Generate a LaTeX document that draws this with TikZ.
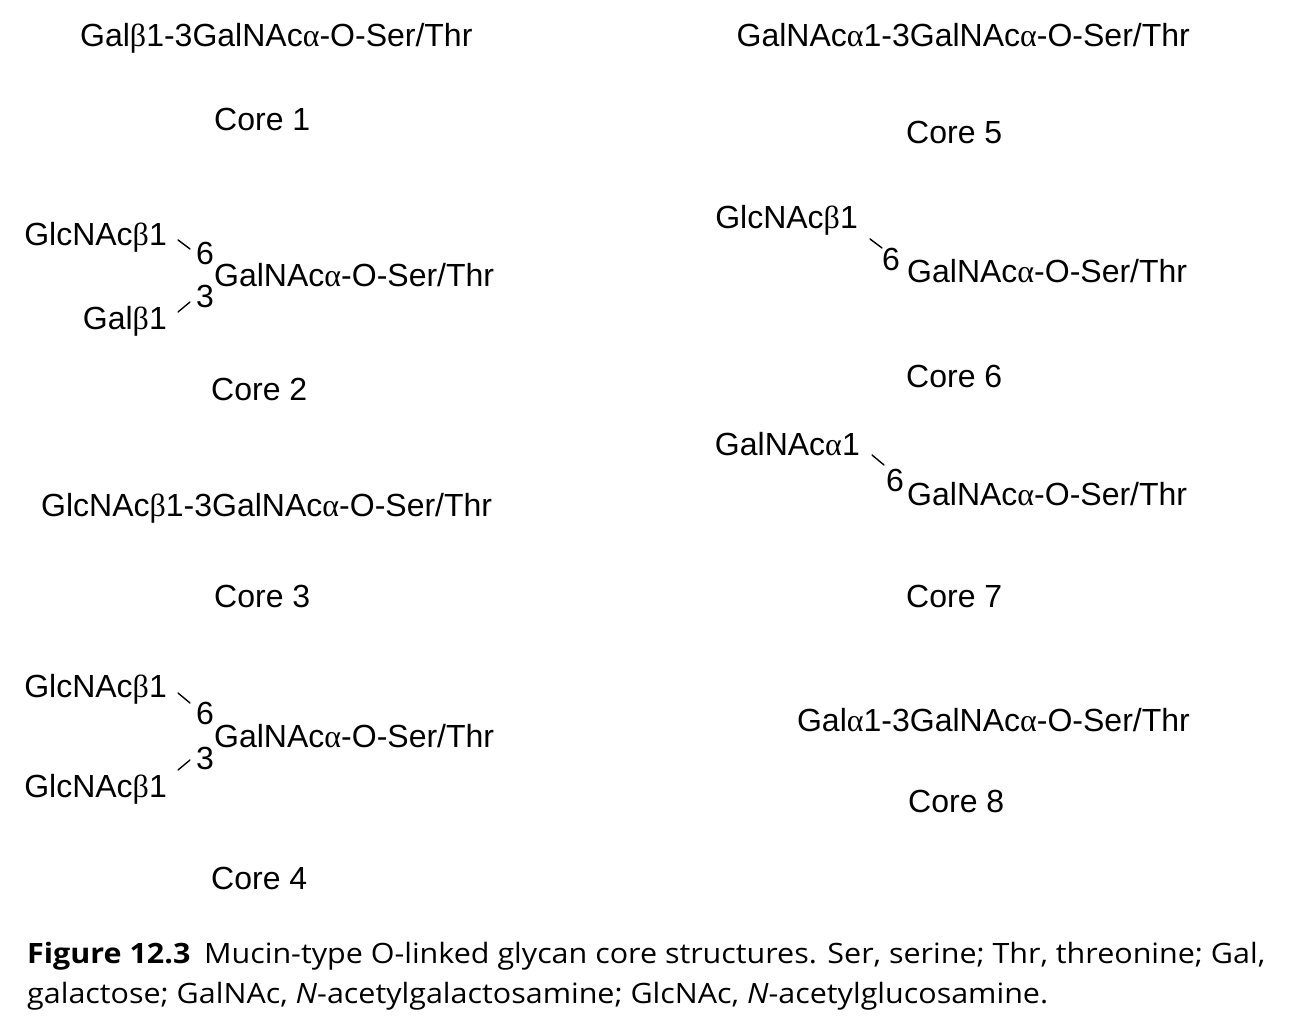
\documentclass[tikz,border=0pt]{standalone}
\usepackage{fontspec}
\setmainfont{Liberation Sans}
\newfontfamily\greekfont{Liberation Serif}
\newfontfamily\capfont{Open Sans}
\newcommand\mybeta{{\greekfont β}}
\newcommand\myalpha{{\greekfont α}}
\newcommand\capone{\textbf{Figure 12.3}\hspace{0.45em}Mucin-type O-linked glycan core structures. Ser, serine; Thr, threonine; Gal,}
\newcommand\captwo{galactose; GalNAc, \textit{N}-acetylgalactosamine; GlcNAc, \textit{N}-acetylglucosamine.}
\newsavebox\capbox
\begin{document}
\sbox\capbox{\capfont\fontsize{28}{32}\selectfont\capone}%
\pgfmathsetmacro\capsc{1238/\the\wd\capbox}%
\begin{tikzpicture}[x=1pt,y=-1pt,
  lbl/.style={inner sep=0pt, font=\fontsize{32}{38}\selectfont},
  lw/.style={lbl, anchor=base west},
  le/.style={lbl, anchor=base east},
  bond/.style={line width=1.4pt, line cap=round},
  captxt/.style={inner sep=0pt, anchor=base west, font=\capfont\fontsize{28}{32}\selectfont}]
\useasboundingbox[fill=white] (0,0) rectangle (1310,1032);
% Core 1
\node[lw] (c1s) at (80,47) {Gal\mybeta1-3GalNAc\myalpha-O-Ser/Thr};
\node[lw] (c1) at (214,131) {Core 1};
% Core 2
\node[le] (c2a) at (167,246) {GlcNAc\mybeta1};
\node[lw] (c2n6) at (196,265) {6};
\node[lw] (c2r) at (214,287) {GalNAc\myalpha-O-Ser/Thr};
\node[lw] (c2n3) at (196,308) {3};
\node[le] (c2b) at (167,330) {Gal\mybeta1};
\coordinate (c2a1) at (178,240); \coordinate (c2a2) at (190,249);
\coordinate (c2b1) at (178,312); \coordinate (c2b2) at (190,302);
\draw[bond] (c2a1) -- (c2a2);
\draw[bond] (c2b1) -- (c2b2);
\node[lw] (c2) at (211,401) {Core 2};
% Core 3
\node[lw] (c3s) at (41,516) {GlcNAc\mybeta1-3GalNAc\myalpha-O-Ser/Thr};
\node[lw] (c3) at (214,607) {Core 3};
% Core 4
\node[le] (c4a) at (167,697) {GlcNAc\mybeta1};
\node[lw] (c4n6) at (196,724) {6};
\node[lw] (c4r) at (214,747) {GalNAc\myalpha-O-Ser/Thr};
\node[lw] (c4n3) at (196,769) {3};
\node[le] (c4b) at (167,797) {GlcNAc\mybeta1};
\coordinate (c4a1) at (178,693); \coordinate (c4a2) at (190,703);
\coordinate (c4b1) at (178,770); \coordinate (c4b2) at (190,760);
\draw[bond] (c4a1) -- (c4a2);
\draw[bond] (c4b1) -- (c4b2);
\node[lw] (c4) at (211,889) {Core 4};
% Core 5
\node[le] (c5s) at (1190,47) {GalNAc\myalpha1-3GalNAc\myalpha-O-Ser/Thr};
\node[lw] (c5) at (906,144) {Core 5};
% Core 6
\node[le] (c6a) at (858,229) {GlcNAc\mybeta1};
\node[lw] (c6n6) at (882,271) {6};
\node[lw] (c6r) at (907,283) {GalNAc\myalpha-O-Ser/Thr};
\coordinate (c6a1) at (870,239); \coordinate (c6a2) at (882,248);
\draw[bond] (c6a1) -- (c6a2);
\node[lw] (c6) at (906,388) {Core 6};
% Core 7
\node[le] (c7a) at (860,455) {GalNAc\myalpha1};
\node[lw] (c7n6) at (886,491) {6};
\node[lw] (c7r) at (907,505) {GalNAc\myalpha-O-Ser/Thr};
\coordinate (c7a1) at (872,455); \coordinate (c7a2) at (884,465);
\draw[bond] (c7a1) -- (c7a2);
\node[lw] (c7) at (906,607) {Core 7};
% Core 8
\node[le] (c8s) at (1190,731) {Gal\myalpha1-3GalNAc\myalpha-O-Ser/Thr};
\node[lw] (c8) at (908,812) {Core 8};
% Caption
\node[captxt] (cap1) at (27,963) {\scalebox{\capsc}[1]{\capone}};
\node[captxt] (cap2) at (27,1003) {\scalebox{\capsc}[1]{\captwo}};
\end{tikzpicture}
\end{document}
